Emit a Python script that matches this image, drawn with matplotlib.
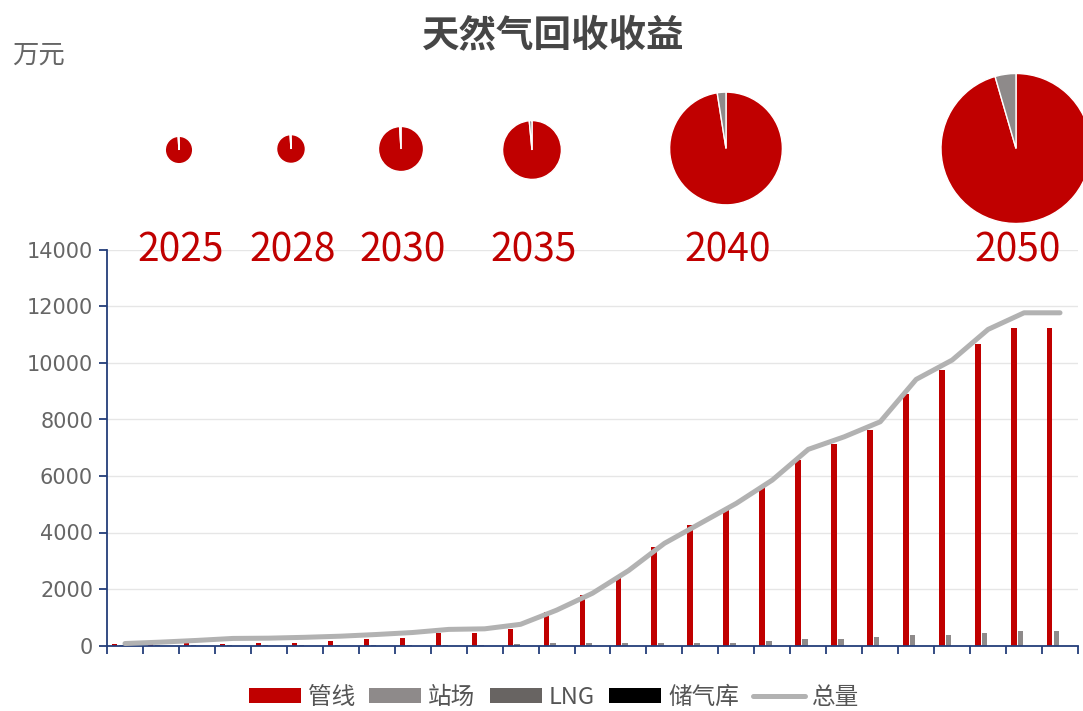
import matplotlib
matplotlib.use("Agg")
import matplotlib.pyplot as plt
import numpy as np

plt.rcParams['font.family'] = ['Noto Sans CJK SC', 'DejaVu Sans']

# data
years = list(range(2024, 2051))
pipeline = [70, 60, 80, 40, 90, 80, 150, 237, 273, 450, 460, 578, 1200, 1800, 2400,
            3485, 4254, 4786, 5611, 6558, 7125, 7621, 8898, 9749, 10670, 11227, 11227]
station = [10, 10, 10, 10, 10, 15, 15, 20, 20, 20, 25, 70, 80, 80, 80,
           80, 80, 80, 170, 230, 230, 310, 370, 370, 460, 510, 510]
lng = [0] * 27
storage = [0] * 27
total = [70, 120, 180, 250, 260, 290, 330, 390, 460, 570, 590, 750, 1250, 1850, 2650,
         3616, 4324, 5032, 5856, 6943, 7388, 7919, 9420, 10103, 11189, 11777, 11777]

pie_years = ["2025", "2028", "2030", "2035", "2040", "2050"]
pie_pipeline = [99.0, 99.0, 99.0, 98.5, 97.5, 95.5]
pie_station = [1.0, 1.0, 1.0, 1.5, 2.5, 4.5]

# layout of pies (pixel centre x, centre y, radius)
pie_pos = [(179, 150, 14), (291, 149, 14.7), (401, 149, 23), (532, 150, 30),
           (726, 148.5, 57.5), (1016, 148.5, 76.5)]

RED = '#c00000'
GREY = '#8e8a8a'
DGREY = '#686462'
LINE = '#b2b2b2'
NAVY = '#243e7a'

W, H = 1083, 711
fig = plt.figure(figsize=(W / 100, H / 100), dpi=100)
ax = fig.add_axes([107 / W, 1 - 645.5 / H, (1078 - 107) / W, (645.5 - 250) / H])

x = np.arange(len(years))
bw = 0.15
b1 = ax.bar(x - 0.285, pipeline, bw, color=RED, zorder=2)
b2 = ax.bar(x - 0.095, station, bw, color=GREY, zorder=2)
b3 = ax.bar(x + 0.095, lng, bw, color=DGREY, zorder=2)
b4 = ax.bar(x + 0.285, storage, bw, color='black', zorder=2)
l1, = ax.plot(x, total, color=LINE, linewidth=3.6, solid_joinstyle='round',
              solid_capstyle='round', zorder=3)

ax.set_xlim(-0.5, len(years) - 0.5)
ax.set_ylim(0, 14000)
ax.set_yticks(range(0, 14001, 2000))
ax.set_xticks(np.arange(-0.5, len(years), 1))
ax.set_xticklabels([])
ax.yaxis.grid(True, color='#e6e6e6', linewidth=1)
ax.set_axisbelow(True)
for s in ['top', 'right']:
    ax.spines[s].set_visible(False)
for s in ['left', 'bottom']:
    ax.spines[s].set_color(NAVY)
    ax.spines[s].set_linewidth(1.3)
ax.tick_params(axis='both', color=NAVY, length=6, width=1.3)
ax.tick_params(axis='y', labelsize=15, labelcolor='#666666', pad=4)
for lab in ax.get_yticklabels():
    lab.set_family('DejaVu Sans')

fig.text(553 / W, 1 - 35 / H, "天然气回收收益", fontsize=27, fontweight='bold',
         color='#464646', ha='center', va='center')
fig.text(12 / W, 1 - 55 / H, "万元", fontsize=19, color='#666666', va='center')

for yr, p, s, (cx, cy, r) in zip(pie_years, pie_pipeline, pie_station, pie_pos):
    pa = fig.add_axes([(cx - r) / W, 1 - (cy + r) / H, 2 * r / W, 2 * r / H])
    pa.pie([p, s], colors=[RED, GREY], startangle=90, counterclock=False,
           wedgeprops=dict(edgecolor='white', linewidth=1))
    pa.set_xlim(-1.02, 1.02)
    pa.set_ylim(-1.02, 1.02)
    fig.text((cx + 2) / W, 1 - 250 / H, yr, fontsize=28, color=RED,
             ha='center', va='center')

leg = fig.legend([b1, b2, b3, b4, l1], ["管线", "站场", "LNG", "储气库", "总量"],
                 loc='center', bbox_to_anchor=(554 / W, 1 - 697 / H), ncol=5,
                 frameon=False, fontsize=17, handlelength=2.2, handleheight=0.6,
                 columnspacing=0.6, handletextpad=0.3)
for t in leg.get_texts():
    t.set_color('#555555')

fig.savefig("out.png", dpi=100)
